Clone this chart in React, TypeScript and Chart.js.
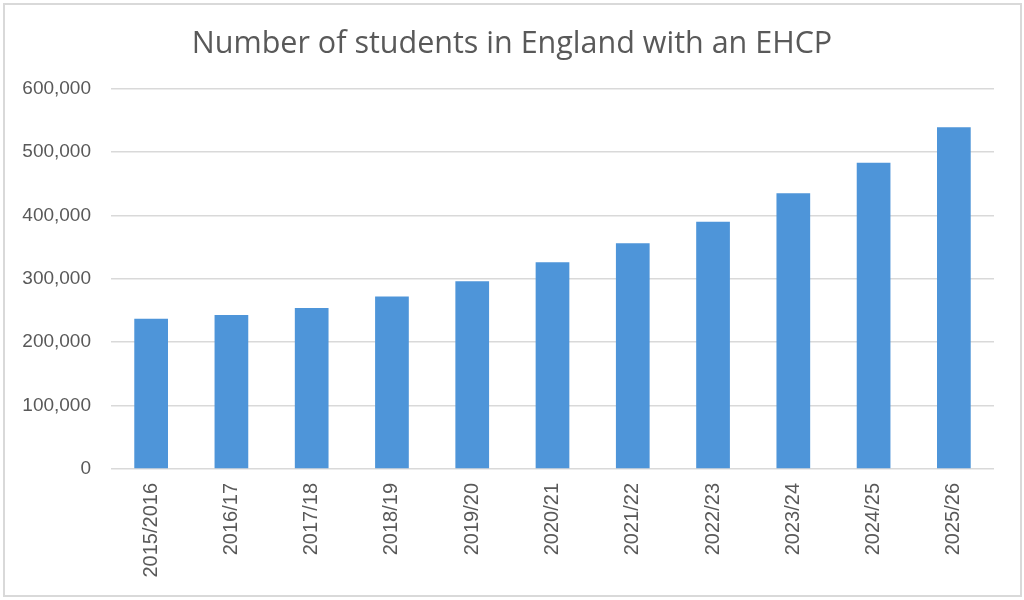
import { useEffect, useRef } from 'react';
import { Chart, ChartConfiguration, registerables } from 'chart.js';

Chart.register(...registerables);

// School years shown along the x axis
const years = [
  '2015/2016',
  '2016/17',
  '2017/18',
  '2018/19',
  '2019/20',
  '2020/21',
  '2021/22',
  '2022/23',
  '2023/24',
  '2024/25',
  '2025/26'
];

// Students with an EHCP
const ehcpCounts = [
  237000, 243000, 254000, 272000, 296000, 326000, 356000, 390000, 435000, 483000, 539000
];

const yMax = 600000;
const yStep = 100000;

const TEXT = '#595959';
const GRID = '#d9d9d9';
const BAR = '#4e95d9';

export default function App() {
  const canvasRef = useRef<HTMLCanvasElement>(null);
  const chartRef = useRef<Chart | null>(null);

  useEffect(() => {
    document.body.style.margin = '0';
    if (!canvasRef.current) return;

    if (chartRef.current) {
      chartRef.current.destroy();
    }

    const ctx = canvasRef.current.getContext('2d');
    if (!ctx) return;

    const config: ChartConfiguration = {
      type: 'bar',
      data: {
        labels: years,
        datasets: [{
          label: 'Students with an EHCP',
          data: ehcpCounts,
          backgroundColor: BAR,
          borderWidth: 0,
          categoryPercentage: 1,
          barPercentage: 0.42
        }]
      },
      options: {
        responsive: false,
        animation: false,
        devicePixelRatio: 1,
        layout: {
          padding: 0
        },
        plugins: {
          legend: { display: false },
          tooltip: { enabled: false },
          title: {
            display: true,
            text: 'Number of students in England with an EHCP',
            color: TEXT,
            font: { family: '"Open Sans", sans-serif', size: 30.5, weight: 'normal' },
            padding: { top: 26, bottom: 26 }
          }
        },
        scales: {
          x: {
            grid: { display: false },
            border: { display: false },
            ticks: {
              color: TEXT,
              font: { family: '"Liberation Sans", Arial, sans-serif', size: 20 },
              minRotation: 90,
              maxRotation: 90,
              padding: 6
            },
            afterFit: (scale) => {
              scale.height = 131;
            }
          },
          y: {
            min: 0,
            max: yMax,
            grid: { color: GRID, lineWidth: 1.5, drawTicks: false },
            border: { display: false },
            ticks: {
              stepSize: yStep,
              color: TEXT,
              padding: 20,
              font: { family: '"Liberation Sans", Arial, sans-serif', size: 19 },
              callback: (v) => Number(v).toLocaleString('en-GB')
            },
            afterFit: (scale) => {
              scale.width = 111;
            }
          },
          // empty right-hand gutter so the title stays centred on the whole chart
          gutter: {
            type: 'linear',
            position: 'right',
            grid: { display: false, drawTicks: false },
            border: { display: false },
            ticks: { display: false },
            afterFit: (scale) => {
              scale.width = 30;
            }
          }
        }
      }
    };

    chartRef.current = new Chart(ctx, config);

    return () => {
      if (chartRef.current) {
        chartRef.current.destroy();
        chartRef.current = null;
      }
    };
  }, []);

  return (
    <div style={{ position: 'relative', width: 1024, height: 600, background: '#fff' }}>
      <canvas ref={canvasRef} width={1024} height={600}></canvas>
      <div
        style={{
          position: 'absolute',
          left: 3,
          top: 3,
          width: 1015,
          height: 590,
          border: `2px solid ${GRID}`,
          pointerEvents: 'none'
        }}
      />
    </div>
  );
}
